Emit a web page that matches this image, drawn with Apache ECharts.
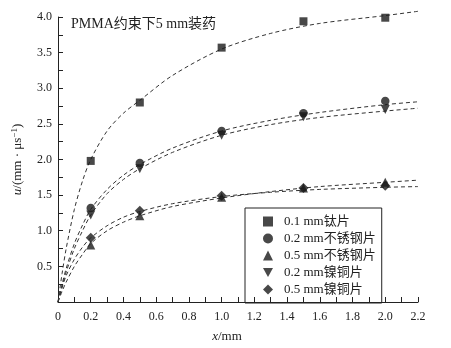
<!DOCTYPE html>
<html><head><meta charset="utf-8">
<script src="https://cdn.jsdelivr.net/npm/echarts@6/dist/echarts.min.js"></script>
<style>html,body{margin:0;padding:0;background:#fff}#c{width:451px;height:348px}</style>
</head><body><div id="c"></div>
<script>
// Measured points
var xPts = [0.2, 0.5, 1.0, 1.5, 2.0];
var tiVals = [1.98, 2.80, 3.57, 3.94, 3.99];
var ss02Vals = [1.32, 1.95, 2.40, 2.65, 2.82];
var ss05Vals = [0.80, 1.21, 1.47, 1.60, 1.68];
var nc02Vals = [1.22, 1.87, 2.34, 2.60, 2.70];
var nc05Vals = [0.90, 1.28, 1.49, 1.60, 1.63];
// Fitted curves
var curveX = [0, 0.025, 0.05, 0.1, 0.15, 0.2, 0.3, 0.4, 0.5, 0.7, 1.0, 1.3, 1.6, 2.0, 2.2];
var tiCurve = [0, 0.40, 0.75, 1.30, 1.70, 2.00, 2.40, 2.65, 2.83, 3.18, 3.55, 3.77, 3.91, 4.02, 4.08];
var ss02Curve = [0, 0.25, 0.47, 0.82, 1.08, 1.30, 1.58, 1.78, 1.93, 2.16, 2.40, 2.55, 2.66, 2.77, 2.81];
var nc02Curve = [0, 0.22, 0.42, 0.75, 1.00, 1.22, 1.52, 1.72, 1.87, 2.10, 2.34, 2.49, 2.59, 2.68, 2.72];
var ss05Curve = [0, 0.15, 0.28, 0.50, 0.67, 0.82, 1.00, 1.12, 1.21, 1.34, 1.46, 1.55, 1.62, 1.68, 1.71];
var nc05Curve = [0, 0.20, 0.37, 0.60, 0.77, 0.90, 1.07, 1.19, 1.27, 1.38, 1.48, 1.54, 1.58, 1.61, 1.62];
var seriesNames = ['0.1 mm钛片', '0.2 mm不锈钢片', '0.5 mm不锈钢片', '0.2 mm镍铜片', '0.5 mm镍铜片'];
var titleText = 'PMMA约束下5 mm装药';

var FONT = '"Liberation Serif", "Noto Sans CJK SC", serif';
var DOWN = 'path://M0,0 L10,0 L5,9 Z';
var symbols = ['rect', 'circle', 'triangle', DOWN, 'diamond'];
var sizes = [8, 8.5, 9, 9, 10];
var valsAll = [tiVals, ss02Vals, ss05Vals, nc02Vals, nc05Vals];
var curvesAll = [tiCurve, ss02Curve, ss05Curve, nc02Curve, nc05Curve];

function zip(xs, ys) { return xs.map(function (x, i) { return [x, ys[i]]; }); }

var series = [];
curvesAll.forEach(function (c) {
  series.push({
    type: 'line', data: zip(curveX, c), smooth: 0.3, showSymbol: false, silent: true, clip: false,
    lineStyle: { color: '#333', width: 1, type: [4, 3] }, z: 1
  });
});
valsAll.forEach(function (v, i) {
  series.push({
    type: 'scatter', name: seriesNames[i], data: zip(xPts, v), symbol: symbols[i], symbolSize: sizes[i],
    itemStyle: { color: '#1a1a1a' }, z: 3
  });
});

var chart = echarts.init(document.getElementById('c'), null, { renderer: 'canvas' });
chart.setOption({
  animation: false,
  backgroundColor: '#fff',
  textStyle: { fontFamily: FONT },
  grid: { left: 58, right: 33, top: 17, bottom: 45 },
  title: {
    text: titleText, left: 66, top: 12,
    textStyle: { fontFamily: FONT, fontSize: 14, fontWeight: 'normal', color: '#222' }
  },
  legend: {
    data: seriesNames, orient: 'vertical', left: 245, top: 208,
    itemWidth: 10, itemHeight: 10, itemGap: 4,
    padding: [7, 6, 7, 18],
    borderColor: '#222', borderWidth: 1,
    textStyle: { fontFamily: FONT, fontSize: 13, color: '#222', lineHeight: 13, padding: [0, 0, 0, 6] }
  },
  xAxis: {
    type: 'value', min: 0, max: 2.2, interval: 0.2,
    name: '{i|x}/mm', nameLocation: 'middle', nameGap: 28,
    nameTextStyle: { fontFamily: FONT, fontSize: 13, color: '#222', padding: [0, 22, 0, 0],
      rich: { i: { fontStyle: 'italic', fontFamily: FONT, fontSize: 13, color: '#222' } } },
    axisLine: { lineStyle: { color: '#222', width: 1 } },
    axisTick: { inside: true, length: 5, lineStyle: { color: '#222' } },
    minorTick: { show: true, splitNumber: 2, length: 5, lineStyle: { color: '#222' } },
    splitLine: { show: false },
    axisLabel: { fontFamily: FONT, fontSize: 12, color: '#222', margin: 9,
      formatter: function (v) { return v === 0 ? '0' : v.toFixed(1); } }
  },
  yAxis: {
    type: 'value', min: 0, max: 4, interval: 0.5,
    name: '{i|u}/(mm · μs{s|−1})', nameLocation: 'middle', nameGap: 33,
    nameTextStyle: { fontFamily: FONT, fontSize: 13, color: '#222',
      rich: {
        i: { fontStyle: 'italic', fontFamily: FONT, fontSize: 13, color: '#222' },
        s: { fontFamily: FONT, fontSize: 9, color: '#222', verticalAlign: 'top', padding: [0, 0, 6, 0] }
      } },
    axisLine: { show: true, lineStyle: { color: '#222', width: 1 } },
    axisTick: { show: true, inside: true, length: 5, lineStyle: { color: '#222' } },
    minorTick: { show: true, splitNumber: 2, length: 5, lineStyle: { color: '#222' } },
    splitLine: { show: false },
    axisLabel: { fontFamily: FONT, fontSize: 12, color: '#222', margin: 6, showMinLabel: false,
      formatter: function (v) { return v.toFixed(1); } }
  },
  series: series
});
</script></body></html>
